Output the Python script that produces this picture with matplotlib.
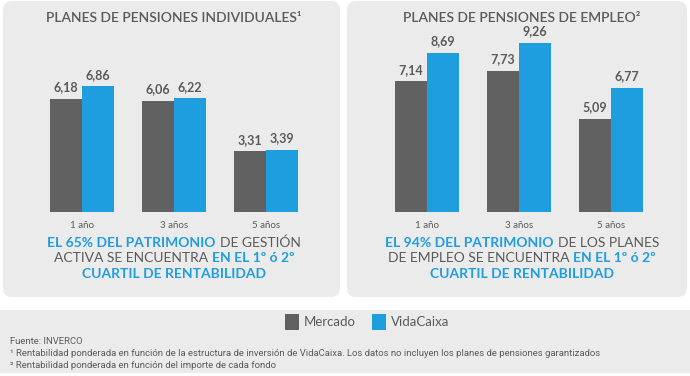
import numpy as np
import matplotlib.pyplot as plt
from matplotlib.patches import FancyBboxPatch, Rectangle

# Datos
categorias = ['1 año', '3 años', '5 años']
ind_mercado = [6.18, 6.06, 3.31]
ind_vidacaixa = [6.86, 6.22, 3.39]
emp_mercado = [7.14, 7.73, 5.09]
emp_vidacaixa = [8.69, 9.26, 6.77]
series = ['Mercado', 'VidaCaixa']

GRIS = '#616161'
AZUL = '#1e9ddf'
FONDO = '#ebebeb'
TEXTO = '#5a5a5a'
FUENTE = ['Lato', 'DejaVu Sans']
ESTRECHA = ['Roboto', 'DejaVu Sans']

W, H = 690, 376
fig = plt.figure(figsize=(W / 100, H / 100), dpi=100)

# Eje de fondo en pixeles
bg = fig.add_axes([0, 0, 1, 1], zorder=0)
bg.set_xlim(0, W)
bg.set_ylim(H, 0)
bg.axis('off')
for x0, w in [(3, 337), (347, 340)]:
    bg.add_patch(FancyBboxPatch((x0, 1), w, 296, boxstyle='round,pad=0,rounding_size=9',
                                fc=FONDO, ec='none'))
bg.add_patch(Rectangle((0, 310), W, 63, fc=FONDO, ec='none'))

PX_UNIDAD = 92   # pixeles entre categorias
PX_VALOR = 18.3  # pixeles por punto de rentabilidad
BASE = 212
ANCHO = 32 / PX_UNIDAD


def panel(x_primera, mercado, vidacaixa):
    izq, der = x_primera - 60, x_primera + 230
    alto = 10 * PX_VALOR
    ax = fig.add_axes([izq / W, (H - BASE) / H, (der - izq) / W, alto / H], zorder=1)
    ax.set_xlim(-60 / PX_UNIDAD, 230 / PX_UNIDAD)
    ax.set_ylim(0, 10)
    ax.axis('off')
    x = np.arange(len(categorias))
    b1 = ax.bar(x - ANCHO / 2, mercado, ANCHO, color=GRIS, label=series[0])
    b2 = ax.bar(x + ANCHO / 2, vidacaixa, ANCHO, color=AZUL, label=series[1])
    for xs, vals in [(x - ANCHO / 2, mercado), (x + ANCHO / 2, vidacaixa)]:
        for xi, v in zip(xs, vals):
            ax.annotate(f'{v:.2f}'.replace('.', ','), (xi, v), xytext=(0, 4),
                        textcoords='offset points', ha='center', va='bottom',
                        fontsize=9, fontweight='bold', color=TEXTO, family=FUENTE,
                        annotation_clip=False)
    for xi, c in zip(x, categorias):
        ax.annotate(c, (xi, 0), xytext=(0, -9.5), textcoords='offset points',
                    ha='center', va='center', fontsize=7, color=TEXTO, family=FUENTE,
                    annotation_clip=False)
    return b1, b2


h1, h2 = panel(82, ind_mercado, ind_vidacaixa)
panel(427, emp_mercado, emp_vidacaixa)

# Titulos
bg.text(174, 18, 'PLANES DE PENSIONES INDIVIDUALES¹', ha='center', va='center',
        fontsize=10, fontweight='semibold', color=TEXTO, family=FUENTE)
bg.text(522, 18, 'PLANES DE PENSIONES DE EMPLEO²', ha='center', va='center',
        fontsize=10, fontweight='semibold', color=TEXTO, family=FUENTE)

# Texto de colores mezclados
renderer = fig.canvas.get_renderer()


def linea(xc, y, partes, size=10, hueco=4):
    textos = []
    for txt, azul in partes:
        t = bg.text(0, y, txt, ha='left', va='center', fontsize=size, family=FUENTE,
                    color=AZUL if azul else TEXTO, fontweight='bold' if azul else 'normal')
        textos.append(t)
    anchos = [t.get_window_extent(renderer).width for t in textos]
    total = sum(anchos) + hueco * (len(anchos) - 1)
    x = xc - total / 2
    for t, a in zip(textos, anchos):
        t.set_x(x)
        x += a + hueco


linea(174, 243, [('EL 65% DEL PATRIMONIO', True), ('DE GESTIÓN', False)])
linea(174, 258, [('ACTIVA SE ENCUENTRA', False), ('EN EL 1º ó 2º', True)])
linea(174, 274, [('CUARTIL DE RENTABILIDAD', True)])
linea(522, 243, [('EL 94% DEL PATRIMONIO', True), ('DE LOS PLANES', False)])
linea(522, 258, [('DE EMPLEO SE ENCUENTRA', False), ('EN EL 1º ó 2º', True)])
linea(522, 274, [('CUARTIL DE RENTABILIDAD', True)])

# Leyenda
fig.legend(handles=[h1, h2], loc='center', bbox_to_anchor=(367 / W, 1 - 322 / H),
           ncol=2, frameon=False, handlelength=1.1, handleheight=1.5,
           handletextpad=0.35, columnspacing=1.2,
           prop={'family': FUENTE, 'size': 9.5}, labelcolor=TEXTO)

# Notas
nota = dict(fontsize=6.8, color=TEXTO, family=ESTRECHA, va='center')
bg.text(10, 341, 'Fuente: INVERCO', **nota)
bg.text(10, 353, '¹ Rentabilidad ponderada en función de la estructura de inversión de VidaCaixa. '
        'Los datos no incluyen los planes de pensiones garantizados', **nota)
bg.text(10, 365, '² Rentabilidad ponderada en función del importe de cada fondo', **nota)

fig.savefig('out.png', dpi=100, facecolor='white')
